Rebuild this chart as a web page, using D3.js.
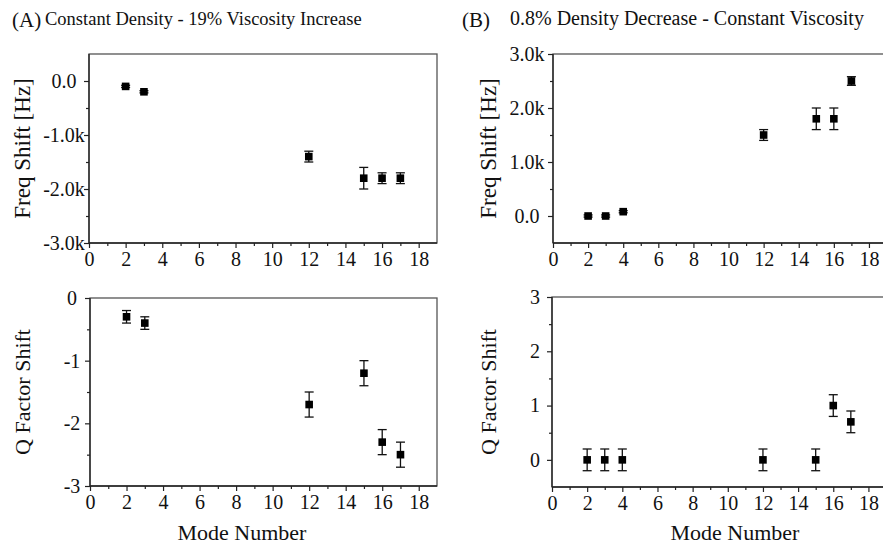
<!DOCTYPE html>
<html>
<head>
<meta charset="utf-8">
<script src="https://cdn.jsdelivr.net/npm/d3@7"></script>
<style>
  body { margin: 0; background: #fff; }
  svg { display: block; }
</style>
</head>
<body>
<svg width="883" height="545"></svg>
<script>
// mode numbers
var modesA = [2, 3, 12, 15, 16, 17];
var modesB = [2, 3, 4, 12, 15, 16, 17];

// (A) constant density, viscosity up
var freqA = [-100, -200, -1400, -1800, -1800, -1800];
var freqErrA = [20, 20, 100, 200, 100, 100];
var qA = [-0.3, -0.4, -1.7, -1.2, -2.3, -2.5];
var qErrA = [0.1, 0.1, 0.2, 0.2, 0.2, 0.2];

// (B) density down, constant viscosity
var freqB = [0, 0, 80, 1500, 1800, 1800, 2500];
var freqErrB = [20, 20, 20, 100, 200, 200, 80];
var qB = [0, 0, 0, 0, 0, 1, 0.7];
var qErrB = [0.2, 0.2, 0.2, 0.2, 0.2, 0.2, 0.2];

// ticks
var xTicks = [0, 2, 4, 6, 8, 10, 12, 14, 16, 18];
var freqTicksA = [-3000, -2000, -1000, 0];
var freqLabelsA = ["-3.0k", "-2.0k", "-1.0k", "0.0"];
var freqTicksB = [0, 1000, 2000, 3000];
var freqLabelsB = ["0.0", "1.0k", "2.0k", "3.0k"];
var qTicksA = [-3, -2, -1, 0];
var qTicksB = [0, 1, 2, 3];

var FONT = "'Liberation Serif'";
var svg = d3.select("svg");

function drawPanel(p) {
  var x = d3.scaleLinear().domain([0, 19]).range([p.left, p.right]);
  var y = d3.scaleLinear().domain(p.ydom).range([p.bottom, p.top]);
  var g = svg.append("g");

  // frame
  g.append("rect")
    .attr("x", p.left).attr("y", p.top)
    .attr("width", p.right - p.left).attr("height", p.bottom - p.top)
    .attr("fill", "none").attr("stroke", "#555").attr("stroke-width", 1.3);

  // minor ticks
  var xMinor = d3.range(1, 19, 2);
  g.append("g").attr("transform", "translate(0," + p.bottom + ")")
    .call(d3.axisBottom(x).tickValues(xMinor).tickSize(3).tickSizeOuter(0).tickFormat(""))
    .call(function(a) { a.select(".domain").remove(); });
  g.append("g").attr("transform", "translate(" + p.left + ",0)")
    .call(d3.axisLeft(y).tickValues(p.yMinor).tickSize(3).tickSizeOuter(0).tickFormat(""))
    .call(function(a) { a.select(".domain").remove(); });

  // major axes
  var xa = g.append("g").attr("transform", "translate(0," + p.bottom + ")")
    .call(d3.axisBottom(x).tickValues(xTicks).tickSize(5).tickSizeOuter(0).tickPadding(4));
  xa.select(".domain").attr("d", "M" + p.left + ",0H" + p.right);
  xa.attr("font-family", FONT);
  xa.selectAll("text").attr("font-size", 20).attr("font-family", FONT).attr("fill", "#111");

  var ya = g.append("g").attr("transform", "translate(" + p.left + ",0)")
    .call(d3.axisLeft(y).tickValues(p.yTicks).tickSize(5).tickSizeOuter(0)
      .tickFormat(function(d, i) { return p.yLabels[i]; }));
  ya.select(".domain").attr("d", "M0," + p.top + "V" + p.bottom);
  ya.attr("font-family", FONT);
  ya.selectAll("text").attr("font-size", 20).attr("font-family", FONT).attr("fill", "#111")
    .attr("text-anchor", "middle").attr("x", -p.labelOff);
  g.selectAll(".domain").attr("stroke", "#222").attr("stroke-width", 1.3);
  g.selectAll(".tick line").attr("stroke", "#222").attr("stroke-width", 1.2);

  // y title
  g.append("text")
    .attr("transform", "translate(" + p.titleX + "," + ((p.top + p.bottom) / 2) + ") rotate(-90)")
    .attr("text-anchor", "middle").attr("dy", "0.35em")
    .attr("font-family", FONT).attr("font-size", p.titleSize).attr("fill", "#111")
    .text(p.yTitle);

  if (p.xTitle) {
    g.append("text").attr("x", p.xTitleX).attr("y", 540)
      .attr("text-anchor", "middle").attr("font-family", FONT).attr("font-size", 22).attr("fill", "#111")
      .text(p.xTitle);
  }

  // data
  var pts = p.xs.map(function(m, i) { return { m: m, v: p.vals[i], e: p.errs[i] }; });
  var eb = g.append("g").attr("stroke", "#111").attr("stroke-width", 1.3);
  pts.forEach(function(d) {
    var cx = x(d.m), y0 = y(d.v - d.e), y1 = y(d.v + d.e);
    eb.append("line").attr("x1", cx).attr("x2", cx).attr("y1", y0).attr("y2", y1);
    eb.append("line").attr("x1", cx - 4.5).attr("x2", cx + 4.5).attr("y1", y0).attr("y2", y0);
    eb.append("line").attr("x1", cx - 4.5).attr("x2", cx + 4.5).attr("y1", y1).attr("y2", y1);
  });
  g.selectAll("rect.pt").data(pts).enter().append("rect").attr("class", "pt")
    .attr("x", function(d) { return x(d.m) - 3.8; })
    .attr("y", function(d) { return y(d.v) - 3.8; })
    .attr("width", 7.6).attr("height", 7.6).attr("fill", "#000");
}

drawPanel({ left: 89, right: 437, top: 54, bottom: 243, ydom: [-3000, 500],
  yTicks: freqTicksA, yLabels: freqLabelsA, yMinor: [-2500, -1500, -500],
  labelOff: 25, titleX: 22, titleSize: 23, yTitle: "Freq Shift [Hz]",
  xs: modesA, vals: freqA, errs: freqErrA });
drawPanel({ left: 90, right: 437, top: 298, bottom: 486, ydom: [-3, 0],
  yTicks: qTicksA, yLabels: qTicksA.map(String), yMinor: [-2.5, -1.5, -0.5],
  labelOff: 18, titleX: 22, titleSize: 22, yTitle: "Q Factor Shift", xTitle: "Mode Number", xTitleX: 242,
  xs: modesA, vals: qA, errs: qErrA });
drawPanel({ left: 553, right: 886.5, top: 54, bottom: 243, ydom: [-500, 3000],
  yTicks: freqTicksB, yLabels: freqLabelsB, yMinor: [500, 1500, 2500],
  labelOff: 26, titleX: 488, titleSize: 23, yTitle: "Freq Shift [Hz]",
  xs: modesB, vals: freqB, errs: freqErrB });
drawPanel({ left: 552, right: 886, top: 297, bottom: 487, ydom: [-0.5, 3],
  yTicks: qTicksB, yLabels: qTicksB.map(String), yMinor: [0.5, 1.5, 2.5],
  labelOff: 17, titleX: 488, titleSize: 22, yTitle: "Q Factor Shift", xTitle: "Mode Number", xTitleX: 735,
  xs: modesB, vals: qB, errs: qErrB });

// panel titles
svg.append("text").attr("x", 12).attr("y", 27).attr("font-family", FONT).attr("font-size", 21).attr("fill", "#111").text("(A)");
svg.append("text").attr("x", 45).attr("y", 25).attr("font-family", FONT).attr("font-size", 18.5).attr("fill", "#111")
  .text("Constant Density - 19% Viscosity Increase");
svg.append("text").attr("x", 462).attr("y", 27).attr("font-family", FONT).attr("font-size", 21).attr("fill", "#111").text("(B)");
svg.append("text").attr("x", 510).attr("y", 25).attr("font-family", FONT).attr("font-size", 20).attr("fill", "#111")
  .text("0.8% Density Decrease - Constant Viscosity");
</script>
</body>
</html>
